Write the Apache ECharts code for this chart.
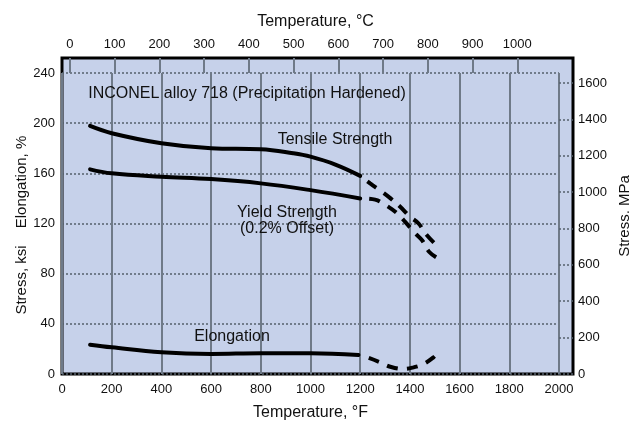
<!DOCTYPE html>
<html>
<head>
<meta charset="utf-8">
<script src="https://cdn.jsdelivr.net/npm/echarts@6/dist/echarts.min.js"></script>
<style>
html,body{margin:0;padding:0;background:#fff;}
#c{width:629px;height:422px;}
</style>
</head>
<body>
<div id="c"></div>
<script>
// ---- data ----
const tensileTempF = [113, 200, 400, 600, 800, 930, 1000, 1100, 1200];
const tensileKsi   = [197.8, 192, 184, 180, 179.2, 176, 173.3, 167, 158];
const tensileDashTempF = [1200, 1240, 1287, 1321, 1361, 1401, 1435, 1462, 1500];
const tensileDashKsi   = [158, 152, 145.3, 140.2, 133.3, 125.3, 120, 112.2, 104];

const yieldTempF = [113, 200, 400, 600, 800, 1000, 1200];
const yieldKsi   = [163.2, 160, 157.3, 155.4, 152, 146.6, 140];
const yieldDashTempF = [1200, 1260, 1300, 1348, 1381, 1421, 1449, 1478, 1515];
const yieldDashKsi   = [140, 139, 135, 128.2, 121.3, 112.2, 106.6, 97.3, 92];

const elongTempF = [113, 200, 400, 600, 800, 1000, 1193];
const elongPct   = [23.4, 21.3, 17.3, 16, 16.5, 16.5, 15.2];
const elongDashTempF = [1200, 1234, 1280, 1321, 1375, 1415, 1455, 1495, 1515];
const elongDashPct   = [15, 12.8, 9.3, 5.8, 4, 5.3, 8, 13.3, 17.3];

// axis ranges and tick steps
const F_MIN = 0, F_MAX = 2000, F_STEP = 200;
const C_MIN = 0, C_MAX = 1000, C_STEP = 100;
const KSI_MAX = 240, KSI_STEP = 40;
const MPA_STEP = 200;
const KSI_TO_MPA = 6.894757;
const cToF = c => c * 1.8 + 32;

// layout of the frame (pixels)
const FRAME = {left: 62, top: 58, width: 511, height: 316};   // outer box (MPa axis on its right)
const PLOT  = {left: 62, top: 73, width: 497, height: 301};   // inner °F / ksi grid
const OUTER_KSI_MAX = KSI_MAX * FRAME.height / PLOT.height;
const fx = f => PLOT.left + (f - F_MIN) / (F_MAX - F_MIN) * PLOT.width;
const C_LEFT = fx(cToF(C_MIN)), C_RIGHT = fx(cToF(C_MAX));

function pairs(xs, ys) { return xs.map((x, i) => [x, ys[i]]); }
const plain = v => String(Math.round(v));

const FONT = '"Liberation Sans", Arial, sans-serif';
const TXT = '#111';

const chart = echarts.init(document.getElementById('c'), null, {renderer: 'canvas'});

function solid(name, data) {
  return {
    name, type: 'line', xAxisIndex: 0, yAxisIndex: 0, data,
    smooth: 0.4, symbol: 'none',
    lineStyle: {color: '#000', width: 4, cap: 'round'}, z: 5
  };
}
function dashed(name, data) {
  return {
    name, type: 'line', xAxisIndex: 0, yAxisIndex: 0, data,
    smooth: 0.4, symbol: 'none',
    lineStyle: {color: '#000', width: 4, type: [11, 9], dashOffset: 11, cap: 'butt'}, z: 5
  };
}

chart.setOption({
  animation: false,
  backgroundColor: '#fff',
  grid: [
    {left: PLOT.left, top: PLOT.top, width: PLOT.width, height: PLOT.height,
     show: false, containLabel: false, outerBoundsMode: 'none'},
    {left: FRAME.left, top: FRAME.top, width: FRAME.width, height: FRAME.height,
     show: true, backgroundColor: '#c6d1ea', borderColor: '#000', borderWidth: 3,
     containLabel: false, outerBoundsMode: 'none', z: -1},
    {left: C_LEFT, top: FRAME.top, width: C_RIGHT - C_LEFT, height: FRAME.height,
     show: false, containLabel: false, outerBoundsMode: 'none'}
  ],
  xAxis: [
    {type: 'value', gridIndex: 0, min: F_MIN, max: F_MAX, interval: F_STEP, position: 'bottom',
     axisLine: {show: false, onZero: false}, axisTick: {show: false},
     splitLine: {show: true, lineStyle: {color: '#6f7a88', width: 2, type: 'solid'}},
     axisLabel: {color: TXT, fontSize: 13, fontFamily: FONT, margin: 9, formatter: plain},
     name: 'Temperature, °F', nameLocation: 'middle', nameGap: 31,
     nameTextStyle: {color: TXT, fontSize: 16, fontFamily: FONT}},
    {type: 'value', gridIndex: 1, show: false, min: 0, max: 1},
    {type: 'value', gridIndex: 2, min: C_MIN, max: C_MAX, interval: C_STEP, position: 'top',
     axisLine: {show: false, onZero: false},
     axisTick: {show: true, inside: true, length: 15, lineStyle: {color: '#6f7a88', width: 2}},
     splitLine: {show: false},
     axisLabel: {color: TXT, fontSize: 13, fontFamily: FONT, margin: 7, formatter: plain},
     name: 'Temperature, °C', nameLocation: 'middle', nameGap: 28,
     nameTextStyle: {color: TXT, fontSize: 16, fontFamily: FONT,
                     padding: [0, 0, 0, 2 * ((FRAME.left + FRAME.width / 2) - (C_LEFT + C_RIGHT) / 2) - 4]}}
  ],
  yAxis: [
    {type: 'value', gridIndex: 0, min: 0, max: KSI_MAX, interval: KSI_STEP, position: 'left',
     axisLine: {show: false, onZero: false}, axisTick: {show: false},
     splitLine: {show: true, lineStyle: {color: '#55606c', width: 1.5, type: [2, 2]}},
     axisLabel: {color: TXT, fontSize: 13, fontFamily: FONT, margin: 7, formatter: plain}},
    {type: 'value', gridIndex: 1, min: 0, max: OUTER_KSI_MAX * KSI_TO_MPA, interval: MPA_STEP, position: 'right',
     axisLine: {show: false, onZero: false},
     axisTick: {show: true, inside: true, length: 14, lineStyle: {color: '#55606c', width: 1.5, type: [2, 2]}},
     splitLine: {show: false},
     axisLabel: {color: TXT, fontSize: 13, fontFamily: FONT, margin: 5, formatter: plain, showMaxLabel: false},
     name: 'Stress, MPa', nameLocation: 'middle', nameGap: 38, nameRotate: 90,
     nameTextStyle: {color: TXT, fontSize: 15, fontFamily: FONT}},
    {type: 'value', gridIndex: 2, show: false, min: 0, max: 1}
  ],
  graphic: [
    {type: 'text', x: 22, y: 182, rotation: Math.PI / 2,
     style: {text: 'Elongation, %', font: '15px ' + FONT, fill: TXT, textAlign: 'center', textVerticalAlign: 'middle'}},
    {type: 'text', x: 22, y: 280, rotation: Math.PI / 2,
     style: {text: 'Stress, ksi', font: '15px ' + FONT, fill: TXT, textAlign: 'center', textVerticalAlign: 'middle'}},
    {type: 'text', x: 247, y: 94, z: 10,
     style: {text: 'INCONEL alloy 718 (Precipitation Hardened)', font: '16px ' + FONT, fill: TXT, textAlign: 'center', textVerticalAlign: 'middle'}},
    {type: 'text', x: 335, y: 140, z: 10,
     style: {text: 'Tensile Strength', font: '16px ' + FONT, fill: TXT, textAlign: 'center', textVerticalAlign: 'middle'}},
    {type: 'text', x: 287, y: 213, z: 10,
     style: {text: 'Yield Strength', font: '16px ' + FONT, fill: TXT, textAlign: 'center', textVerticalAlign: 'middle'}},
    {type: 'text', x: 287, y: 229, z: 10,
     style: {text: '(0.2% Offset)', font: '16px ' + FONT, fill: TXT, textAlign: 'center', textVerticalAlign: 'middle'}},
    {type: 'text', x: 232, y: 337, z: 10,
     style: {text: 'Elongation', font: '16px ' + FONT, fill: TXT, textAlign: 'center', textVerticalAlign: 'middle'}}
  ],
  series: [
    solid('Tensile Strength', pairs(tensileTempF, tensileKsi)),
    dashed('Tensile Strength (dashed)', pairs(tensileDashTempF, tensileDashKsi)),
    solid('Yield Strength', pairs(yieldTempF, yieldKsi)),
    dashed('Yield Strength (dashed)', pairs(yieldDashTempF, yieldDashKsi)),
    solid('Elongation', pairs(elongTempF, elongPct)),
    dashed('Elongation (dashed)', pairs(elongDashTempF, elongDashPct))
  ]
});
</script>
</body>
</html>
